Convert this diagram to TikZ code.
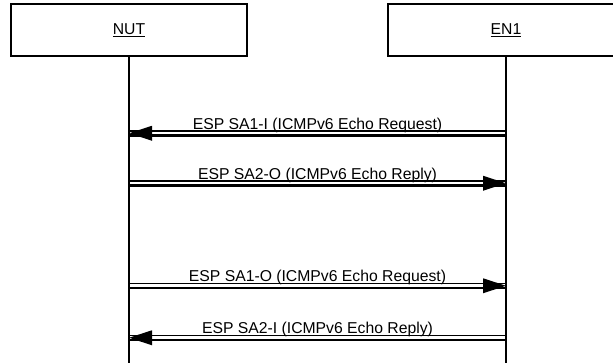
\documentclass[tikz,border=0pt]{standalone}
\usepackage{fontspec}
\setmainfont{Liberation Sans}
\usepackage{tikz}
\usetikzlibrary{positioning, calc}
\definecolor{lineBlack}{HTML}{000000}

\begin{document}
\begin{tikzpicture}[
  x=1bp, y=-1bp,
  every node/.style={font=\fontsize{15.8}{18}\selectfont},
  lifeBox/.style={draw=lineBlack, fill=white, line width=2bp, minimum width=236bp, minimum height=52bp, inner sep=0pt},
  lifeLine/.style={draw=lineBlack, line width=2bp},
  msgThin/.style={draw=lineBlack, line width=1.4bp},
  msgThick/.style={draw=lineBlack, line width=2.3bp},
  msgLabel/.style={anchor=base, inner sep=0pt, text=lineBlack}
]
  \clip (0,0) rectangle (613,363);

  % the two lifelines
  \node[lifeBox] (nut) at (129,30) {\underline{NUT}};
  \node[lifeBox] (en1) at (506,30) {\underline{EN1}};
  \coordinate (nutEnd) at (nut |- 0,363);
  \coordinate (enEnd) at (en1 |- 0,363);
  \draw[lifeLine] (nut.south) -- (nutEnd);
  \draw[lifeLine] (en1.south) -- (enEnd);

  % message end points on the lifelines
  \coordinate (nutM1) at (nut |- 0,131);   \coordinate (enM1) at (en1 |- 0,131);
  \coordinate (nutM2) at (nut |- 0,181);   \coordinate (enM2) at (en1 |- 0,181);
  \coordinate (nutM3) at (nut |- 0,283.5); \coordinate (enM3) at (en1 |- 0,283.5);
  \coordinate (nutM4) at (nut |- 0,335.5); \coordinate (enM4) at (en1 |- 0,335.5);

  % EN1 -> NUT
  \draw[msgThin] (enM1) -- (nutM1);
  \draw[msgThick] ($(enM1)+(0,4.5)$) -- ($(nutM1)+(0,4.5)$);
  \fill[lineBlack] ($(nutM1)+(0,2.25)$) -- ++(23,-7.5) -- ++(0,15) -- cycle;
  \node[msgLabel] (lblM1) at ($(nutM1)!0.5!(enM1)+(0,-2)$) {ESP SA1-I (ICMPv6 Echo Request)};

  % NUT -> EN1
  \draw[msgThin] (nutM2) -- (enM2);
  \draw[msgThick] ($(nutM2)+(0,4.5)$) -- ($(enM2)+(0,4.5)$);
  \fill[lineBlack] ($(enM2)+(0,2.25)$) -- ++(-23,-7.5) -- ++(0,15) -- cycle;
  \node[msgLabel] (lblM2) at ($(nutM2)!0.5!(enM2)+(0,-2)$) {ESP SA2-O (ICMPv6 Echo Reply)};

  % NUT -> EN1
  \draw[msgThin] (nutM3) -- (enM3);
  \draw[msgThick] ($(nutM3)+(0,4.5)$) -- ($(enM3)+(0,4.5)$);
  \fill[lineBlack] ($(enM3)+(0,2.25)$) -- ++(-23,-7.5) -- ++(0,15) -- cycle;
  \node[msgLabel] (lblM3) at ($(nutM3)!0.5!(enM3)+(0,-2)$) {ESP SA1-O (ICMPv6 Echo Request)};

  % EN1 -> NUT
  \draw[msgThin] (enM4) -- (nutM4);
  \draw[msgThick] ($(enM4)+(0,4.5)$) -- ($(nutM4)+(0,4.5)$);
  \fill[lineBlack] ($(nutM4)+(0,2.25)$) -- ++(23,-7.5) -- ++(0,15) -- cycle;
  \node[msgLabel] (lblM4) at ($(nutM4)!0.5!(enM4)+(0,-2)$) {ESP SA2-I (ICMPv6 Echo Reply)};

\end{tikzpicture}
\end{document}
